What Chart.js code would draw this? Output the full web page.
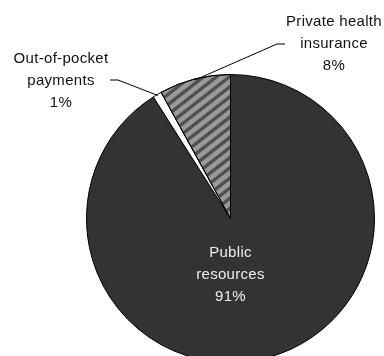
<!DOCTYPE html>
<html>
<head>
<meta charset="utf-8">
<script src="https://cdn.jsdelivr.net/npm/chart.js@4/dist/chart.umd.min.js"></script>
<style>
html,body{margin:0;padding:0;background:#fff;}
#wrap{width:384px;height:356px;overflow:hidden;position:relative;}
</style>
</head>
<body>
<div id="wrap"><canvas id="c" width="384" height="370"></canvas></div>
<script>
const categories = ["Public resources", "Out-of-pocket payments", "Private health insurance"];
const labelLines = [["Public", "resources"], ["Out-of-pocket", "payments"], ["Private health", "insurance"]];
const values = [91, 1, 8];

function slicePath(ctx, arc) {
  ctx.beginPath();
  ctx.moveTo(arc.x, arc.y);
  ctx.arc(arc.x, arc.y, arc.outerRadius, arc.startAngle, arc.endAngle);
  ctx.closePath();
}

const hatchPlugin = {
  id: 'hatch',
  afterDatasetsDraw(chart) {
    const ctx = chart.ctx;
    const arc = chart.getDatasetMeta(0).data[2];
    ctx.save();
    slicePath(ctx, arc);
    ctx.clip();
    ctx.strokeStyle = '#505050';
    ctx.lineWidth = 3.4;
    const px = 13, slope = 0.78;
    ctx.beginPath();
    for (let x0 = -400; x0 < 800; x0 += px) {
      ctx.moveTo(x0, 0);
      ctx.lineTo(x0 - 400, 400 * slope);
    }
    ctx.stroke();
    ctx.restore();
    ctx.save();
    slicePath(ctx, arc);
    ctx.strokeStyle = '#000';
    ctx.lineWidth = 1;
    ctx.stroke();
    ctx.restore();
  }
};

const labelPlugin = {
  id: 'pieLabels',
  afterDraw(chart) {
    const ctx = chart.ctx;
    const arcs = chart.getDatasetMeta(0).data;
    const total = values.reduce((a, b) => a + b, 0);
    const cfg = [
      {x: 230.5, y: 253, color: '#eeeeee'},
      {x: 61, y: 59, color: '#111111', lineTo: [[118, 80], [110, 80]]},
      {x: 334, y: 22, color: '#111111', lineTo: [[277, 44], [285, 44]]}
    ];
    ctx.save();
    ctx.font = '15px "Liberation Sans", Arial, sans-serif';
    try { ctx.letterSpacing = '0.3px'; } catch (e) {}
    ctx.textAlign = 'center';
    ctx.textBaseline = 'middle';
    arcs.forEach((arc, i) => {
      const c = cfg[i];
      const lines = labelLines[i].concat([Math.round(values[i] / total * 100) + '%']);
      ctx.fillStyle = c.color;
      lines.forEach((t, k) => ctx.fillText(t, c.x, c.y + k * 21.7));
      if (c.lineTo) {
        const mid = (arc.startAngle + arc.endAngle) / 2;
        const r = arc.outerRadius - 1;
        ctx.strokeStyle = '#000';
        ctx.lineWidth = 1;
        ctx.beginPath();
        ctx.moveTo(arc.x + Math.cos(mid) * r, arc.y + Math.sin(mid) * r);
        c.lineTo.forEach(pt => ctx.lineTo(pt[0], pt[1]));
        ctx.stroke();
      }
    });
    ctx.restore();
  }
};

new Chart(document.getElementById('c'), {
  type: 'pie',
  data: {
    labels: categories,
    datasets: [{
      data: values,
      backgroundColor: ['#333333', '#ffffff', '#999999'],
      borderColor: '#000000',
      borderWidth: 1
    }]
  },
  options: {
    responsive: false,
    animation: false,
    layout: {padding: {left: 86, right: 9, top: 74, bottom: 7}},
    plugins: {legend: {display: false}, tooltip: {enabled: false}}
  },
  plugins: [hatchPlugin, labelPlugin]
});
</script>
</body>
</html>
